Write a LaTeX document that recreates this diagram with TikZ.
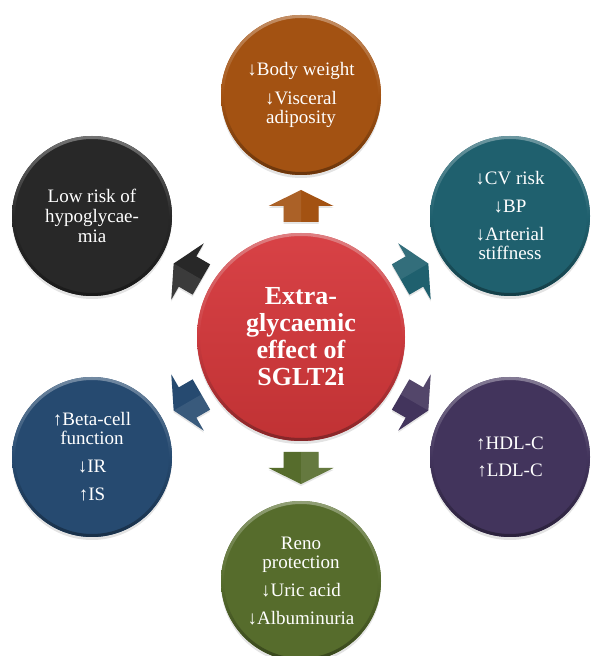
\documentclass[tikz,border=0pt]{standalone}
\usepackage{fontspec}
\setmainfont{Liberation Serif}
\usetikzlibrary{shadows}
\definecolor{orangeC}{RGB}{163,82,18}
\definecolor{tealC}{RGB}{31,96,110}
\definecolor{purpleC}{RGB}{66,52,92}
\definecolor{greenC}{RGB}{86,108,44}
\definecolor{blueC}{RGB}{38,74,112}
\definecolor{blackC}{RGB}{40,40,40}
\definecolor{redTop}{RGB}{216,66,70}
\definecolor{redBot}{RGB}{192,50,52}
\definecolor{redC}{RGB}{205,58,62}
\tikzset{
  sat/.style={circle, minimum size=160pt, inner sep=0pt, text=white, align=center,
    font=\fontsize{19}{19}\selectfont,
    drop shadow={opacity=0.22, shadow xshift=0pt, shadow yshift=-3pt}},
  hub/.style={circle, minimum size=208pt, inner sep=0pt, text=white, align=center,
    top color=redTop, bottom color=redBot,
    font=\bfseries\fontsize{26}{27}\selectfont,
    drop shadow={opacity=0.22, shadow xshift=0pt, shadow yshift=-3pt}},
  arrowshine/.style={white, opacity=0.09}
}
\begin{document}
\begin{tikzpicture}[x=1pt,y=1pt]
\useasboundingbox (0,0) rectangle (593,656);
\fill[white] (0,0) rectangle (593,656);

\node[hub] (ctr) at (301,319) {Extra-\\glycaemic\\effect of\\SGLT2i};

\node[sat, fill=orangeC] (weight) at (301,561) {↓Body weight\\[10pt]↓Visceral\\adiposity};
\node[sat, fill=tealC] (cv) at (510,440) {↓CV risk\\[9pt]↓BP\\[9pt]↓Arterial\\stiffness};
\node[sat, fill=purpleC] (lipid) at (510,199) {↑HDL-C\\[8pt]↑LDL-C};
\node[sat, fill=greenC] (reno) at ([yshift=-3pt]301,78) {Reno\\protection\\[9pt]↓Uric acid\\[9pt]↓Albuminuria};
\node[sat, fill=blueC] (beta) at (92,199) {↑Beta-cell\\function\\[9pt]↓IR\\[9pt]↑IS};
\node[sat, fill=blackC] (hypo) at (92,440) {Low risk of\\[1pt]hypoglycae-\\[1pt]mia};

% bevel rims
\foreach \n/\c in {weight/orangeC, cv/tealC, lipid/purpleC, reno/greenC, beta/blueC, hypo/blackC}{
  \shade[even odd rule, top color=\c!65!white, bottom color=\c!65!black, middle color=\c]
    (\n.center) circle (80) (\n.center) circle (77);
}
\shade[even odd rule, top color=redC!65!white, bottom color=redC!65!black, middle color=redC]
  (ctr.center) circle (104) (ctr.center) circle (101);

% block arrows from the hub towards each circle
\foreach \a/\c in {90/orangeC, 30/tealC, -30/purpleC, -90/greenC, 150/blackC, 210/blueC}{
  \begin{scope}[shift={(ctr.center)}, rotate=\a]
    \fill[\c, drop shadow={opacity=0.2, shadow xshift=0pt, shadow yshift=-2pt}]
      (115,-17.5) -- (131,-17.5) -- (131,-32.5) -- (147,0) -- (131,32.5) -- (131,17.5) -- (115,17.5) -- cycle;
    \fill[arrowshine] (115,17.5) -- (131,17.5) -- (131,32.5) -- (147,0) -- (115,0) -- cycle;
  \end{scope}
}
\end{tikzpicture}
\end{document}
